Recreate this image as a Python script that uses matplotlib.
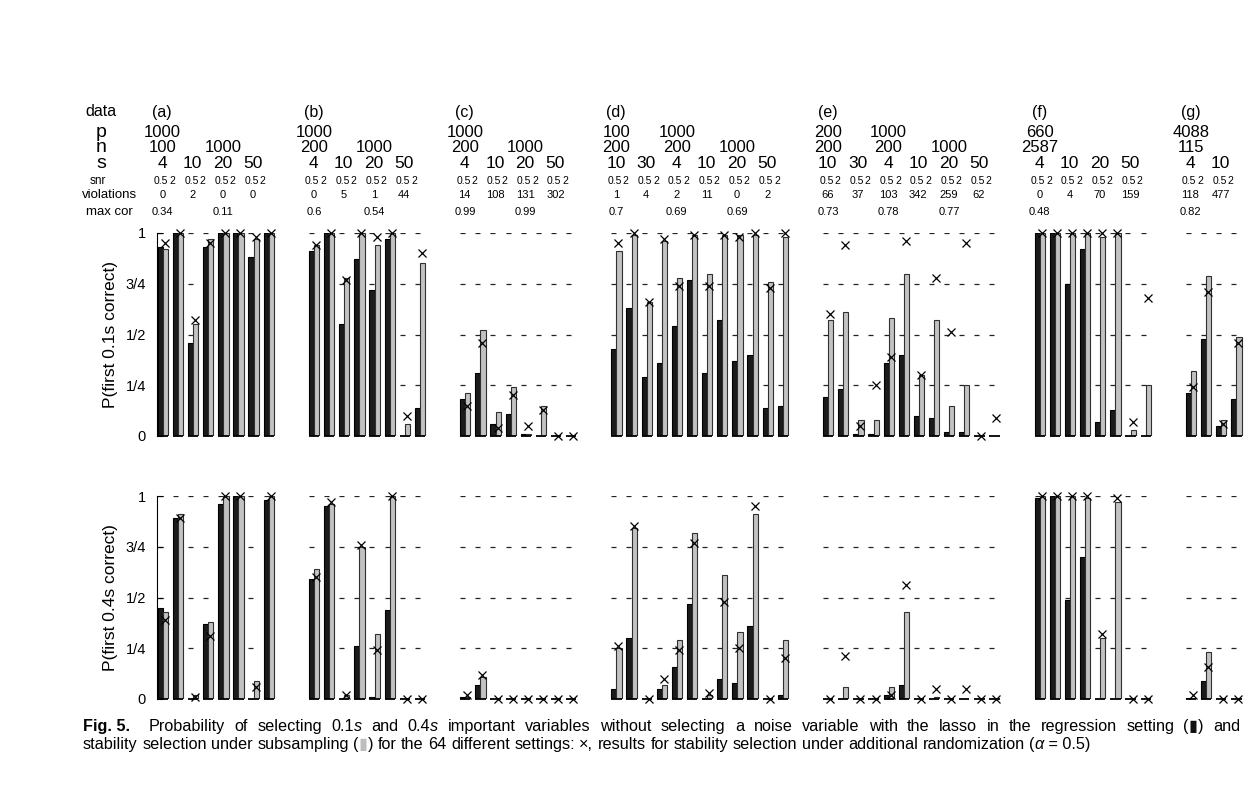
import numpy as np
import matplotlib
matplotlib.use('Agg')
import matplotlib.pyplot as plt
from matplotlib import transforms

plt.rcParams['font.family'] = ['Liberation Sans', 'DejaVu Sans']

# ---- data -------------------------------------------------------------
group_names = ['(a)', '(b)', '(c)', '(d)', '(e)', '(f)', '(g)']
group_sizes = [8, 8, 8, 12, 12, 8, 4]
group_gap = 2

# (position inside group, label)
p_labels = [[(0, '1000')], [(0, '1000')], [(0, '1000')],
            [(0, '100'), (4, '1000')], [(0, '200'), (4, '1000')],
            [(0, '660')], [(0, '4088')]]
n_labels = [[(0, '100'), (4, '1000')], [(0, '200'), (4, '1000')],
            [(0, '200'), (4, '1000')],
            [(0, '200'), (4, '200'), (8, '1000')],
            [(0, '200'), (4, '200'), (8, '1000')],
            [(0, '2587')], [(0, '115')]]
s_labels = [['4', '10', '20', '50'], ['4', '10', '20', '50'],
            ['4', '10', '20', '50'],
            ['10', '30', '4', '10', '20', '50'],
            ['10', '30', '4', '10', '20', '50'],
            ['4', '10', '20', '50'], ['4', '10']]
snr_labels = ['0.5', '2']
violations = [[0, 2, 0, 0], [0, 5, 1, 44], [14, 108, 131, 302],
              [1, 4, 2, 11, 0, 2], [66, 37, 103, 342, 259, 62],
              [0, 4, 70, 159], [118, 477]]
max_cor = [[(0, '0.34'), (4, '0.11')], [(0, '0.6'), (4, '0.54')],
           [(0, '0.99'), (4, '0.99')],
           [(0, '0.7'), (4, '0.69'), (8, '0.69')],
           [(0, '0.73'), (4, '0.78'), (8, '0.77')],
           [(0, '0.48')], [(0, '0.82')]]

# P(first 0.1s correct)
lasso_01 = [0.93, 1.0, 0.46, 0.93, 1.0, 1.0, 0.88, 1.0,
            0.91, 1.0, 0.55, 0.87, 0.72, 0.97, 0.0, 0.14,
            0.18, 0.31, 0.06, 0.11, 0.01, 0.0, 0.0, 0.0,
            0.43, 0.63, 0.29, 0.36, 0.54, 0.77, 0.31, 0.57, 0.37, 0.40, 0.14, 0.15,
            0.19, 0.23, 0.01, 0.01, 0.36, 0.40, 0.10, 0.09, 0.02, 0.02, 0.0, 0.0,
            1.0, 1.0, 0.75, 0.92, 0.07, 0.13, 0.0, 0.0,
            0.21, 0.48, 0.05, 0.18]
stab_01 = [0.92, 1.0, 0.55, 0.97, 1.0, 1.0, 0.97, 1.0,
           0.94, 1.0, 0.78, 1.0, 0.94, 1.0, 0.06, 0.85,
           0.21, 0.52, 0.12, 0.24, 0.01, 0.15, 0.0, 0.0,
           0.91, 0.99, 0.66, 0.96, 0.78, 0.99, 0.80, 0.99, 0.99, 0.99, 0.76, 0.98,
           0.57, 0.61, 0.08, 0.08, 0.58, 0.80, 0.30, 0.57, 0.15, 0.25, 0.0, 0.0,
           1.0, 1.0, 1.0, 1.0, 0.98, 1.0, 0.03, 0.25,
           0.32, 0.79, 0.08, 0.49]
rand_01 = [0.95, 1.0, 0.57, 0.95, 1.0, 1.0, 0.98, 1.0,
           0.94, 1.0, 0.77, 1.0, 0.98, 1.0, 0.10, 0.90,
           0.15, 0.46, 0.04, 0.20, 0.05, 0.13, 0.0, 0.0,
           0.95, 1.0, 0.66, 0.97, 0.74, 0.99, 0.74, 0.99, 0.98, 1.0, 0.73, 1.0,
           0.60, 0.94, 0.05, 0.25, 0.39, 0.96, 0.30, 0.78, 0.51, 0.95, 0.0, 0.09,
           1.0, 1.0, 1.0, 1.0, 1.0, 1.0, 0.07, 0.68,
           0.24, 0.71, 0.06, 0.46]

# P(first 0.4s correct)
lasso_04 = [0.45, 0.89, 0.0, 0.37, 0.96, 1.0, 0.0, 0.98,
            0.59, 0.95, 0.0, 0.26, 0.01, 0.44, 0.0, 0.0,
            0.01, 0.07, 0.0, 0.0, 0.0, 0.0, 0.0, 0.0,
            0.05, 0.30, 0.0, 0.05, 0.16, 0.47, 0.0, 0.10, 0.08, 0.36, 0.0, 0.02,
            0.0, 0.0, 0.0, 0.0, 0.02, 0.07, 0.0, 0.0, 0.0, 0.0, 0.0, 0.0,
            0.99, 1.0, 0.49, 0.70, 0.0, 0.0, 0.0, 0.0,
            0.005, 0.09, 0.0, 0.0]
stab_04 = [0.43, 0.91, 0.02, 0.38, 1.0, 1.0, 0.09, 1.0,
           0.64, 0.96, 0.02, 0.75, 0.32, 1.0, 0.0, 0.0,
           0.01, 0.11, 0.0, 0.0, 0.0, 0.0, 0.0, 0.0,
           0.25, 0.84, 0.0, 0.07, 0.29, 0.82, 0.02, 0.61, 0.33, 0.91, 0.0, 0.29,
           0.0, 0.06, 0.0, 0.0, 0.06, 0.43, 0.0, 0.01, 0.0, 0.0, 0.0, 0.0,
           1.0, 1.0, 1.0, 0.99, 0.30, 0.97, 0.0, 0.0,
           0.0, 0.23, 0.0, 0.0]
rand_04 = [0.39, 0.89, 0.01, 0.31, 1.0, 1.0, 0.06, 1.0,
           0.60, 0.97, 0.02, 0.76, 0.24, 1.0, 0.0, 0.0,
           0.02, 0.12, 0.0, 0.0, 0.0, 0.0, 0.0, 0.0,
           0.26, 0.85, 0.0, 0.10, 0.24, 0.77, 0.03, 0.48, 0.25, 0.95, 0.0, 0.20,
           0.0, 0.21, 0.0, 0.0, 0.02, 0.56, 0.0, 0.05, 0.0, 0.05, 0.0, 0.0,
           1.0, 1.0, 1.0, 1.0, 0.32, 0.99, 0.0, 0.0,
           0.02, 0.16, 0.0, 0.0]

ytick_vals = [0, 0.25, 0.5, 0.75, 1]
ytick_labels = ['0', '1/4', '1/2', '3/4', '1']

# ---- layout -----------------------------------------------------------
W, H = 1253, 797
fig = plt.figure(figsize=(W / 100, H / 100), dpi=100)

slots = []
group_start = []
start = 0
for size in group_sizes:
    group_start.append(start)
    slots.extend(range(start, start + size))
    start += size + group_gap
slots = np.array(slots, dtype=float)

unit = 15.12          # pixels per slot
x_lo, x_hi = -0.05, 72
left_px = 157
width_px = (x_hi - x_lo) * unit


def make_axes(top_px, bottom_px):
    ax = fig.add_axes([left_px / W, 1 - bottom_px / H, width_px / W, (bottom_px - top_px) / H])
    ax.set_xlim(x_lo, x_hi)
    ax.set_ylim(0, 1)
    for side in ['top', 'right', 'bottom']:
        ax.spines[side].set_visible(False)
    ax.spines['left'].set_linewidth(0.8)
    ax.set_xticks([])
    ax.set_yticks(ytick_vals)
    ax.set_yticklabels(ytick_labels, fontsize=10.5)
    ax.tick_params(axis='y', direction='in', length=4, width=0.8, pad=8)
    return ax


def draw_panel(ax, lasso, stab, rand):
    bw = 0.34
    for lev in [0.25, 0.5, 0.75, 1.0]:
        ax.hlines(np.full(len(slots), lev), slots, slots + 0.33,
                  colors='#222222', lw=0.9, zorder=0)
    ax.bar(slots, lasso, width=bw, align='edge', color='#1b1b1b',
           edgecolor='black', lw=0.8, zorder=2)
    ax.bar(slots + bw, stab, width=bw, align='edge', color='#c2c2c2',
           edgecolor='#303030', lw=0.8, zorder=2)
    # base line under every bar pair (visible where a value is zero)
    ax.hlines(np.zeros(len(slots)), slots, slots + 2 * bw, colors='black',
              lw=1.3, zorder=3, clip_on=False)
    ax.plot(slots + 0.47, rand, 'x', color='black', ms=5.5, mew=0.9,
            clip_on=False, zorder=5)


ax1 = make_axes(233, 436)
ax2 = make_axes(496, 699)
draw_panel(ax1, lasso_01, stab_01, rand_01)
draw_panel(ax2, lasso_04, stab_04, rand_04)

fig.text(110 / W, 1 - 334.5 / H, 'P(first 0.1s correct)', rotation=90,
         ha='center', va='center', fontsize=12.5)
fig.text(110 / W, 1 - 597.5 / H, 'P(first 0.4s correct)', rotation=90,
         ha='center', va='center', fontsize=12.5)

# ---- header table -----------------------------------------------------
trans = transforms.blended_transform_factory(ax1.transData, fig.transFigure)
rows = {'data': 116.5, 'p': 137, 'n': 152.5, 's': 168.5,
        'snr': 184.5, 'violations': 198.5, 'max cor': 215}
row_x = {'data': 101, 'p': 101.5, 'n': 101.5, 's': 101.5,
         'snr': 98, 'violations': 109.5, 'max cor': 109}
row_size = {'data': 11.5, 'p': 14, 'n': 14, 's': 14,
            'snr': 8.5, 'violations': 9.5, 'max cor': 9.5}
for name, yp in rows.items():
    fig.text(row_x[name] / W, 1 - yp / H, name, ha='center', va='baseline',
             fontsize=row_size[name])


def head(x, row, label, size):
    fig.text(x, 1 - rows[row] / H, label, transform=trans, ha='center',
             va='baseline', fontsize=size)


for gi, g0 in enumerate(group_start):
    head(g0 + 0.3, 'data', group_names[gi], 11.5)
    for k, lab in p_labels[gi]:
        head(g0 + k + 0.33, 'p', lab, 12)
    for k, lab in n_labels[gi]:
        head(g0 + k + 0.33, 'n', lab, 12)
    for j, lab in enumerate(s_labels[gi]):
        head(g0 + 2 * j + 0.3, 's', lab, 12.5)
    for k in range(group_sizes[gi]):
        lab = snr_labels[k % 2]
        head(g0 + k + (0.22 if k % 2 == 0 else -0.05), 'snr', lab, 7.5)
    for j, v in enumerate(violations[gi]):
        head(g0 + 2 * j + 0.3, 'violations', str(v), 8)
    for k, lab in max_cor[gi]:
        head(g0 + k + 0.33, 'max cor', lab, 8)

# ---- caption ----------------------------------------------------------
renderer = fig.canvas.get_renderer()
ital = {'fontstyle': 'italic'}
bold = {'fontweight': 'bold'}
black_box = {'family': 'DejaVu Sans', 'color': '#111111'}
gray_box = {'family': 'DejaVu Sans', 'color': '#bdbdbd'}


def plain(s):
    return [[(w, {})] for w in s.split()]


line1 = ([[('Fig. 5.', bold)], [('', {})]] + plain('Probability of selecting') +
         [[('0.1', {}), ('s', ital)]] + plain('and') + [[('0.4', {}), ('s', ital)]] +
         plain('important variables without selecting a noise variable with the '
               'lasso in the regression setting') +
         [[('(', {}), ('\u25ae', black_box), (')', {})]] + plain('and'))
line2 = (plain('stability selection under subsampling') +
         [[('(', {}), ('\u25ae', gray_box), (')', {})]] +
         plain('for the 64 different settings:') + [[('\u00d7,', {})]] +
         plain('results for stability selection under additional randomization') +
         [[('(', {}), ('\u03b1', ital), (' = 0.5)', {})]])


def widths(words, size):
    out = []
    for w in words:
        ws = []
        for txt, kw in w:
            if txt == '':
                ws.append(0.0)
                continue
            t = fig.text(0, 0, txt, fontsize=size, **kw)
            ws.append(t.get_window_extent(renderer).width)
            t.remove()
        out.append(ws)
    return out


def space_width(size):
    t1 = fig.text(0, 0, 'a a', fontsize=size)
    t2 = fig.text(0, 0, 'aa', fontsize=size)
    d = t1.get_window_extent(renderer).width - t2.get_window_extent(renderer).width
    t1.remove()
    t2.remove()
    return d


def place(words, x0, y, size, gap=None, width=None):
    ws = widths(words, size)
    total = sum(sum(w) for w in ws)
    if width is not None:
        gap = (width - total) / (len(words) - 1)
    x = x0
    for w, wl in zip(words, ws):
        for (txt, kw), pw in zip(w, wl):
            if txt:
                fig.text(x / W, 1 - y / H, txt, fontsize=size, va='baseline', **kw)
            x += pw
        x += gap


base = 10
ws2 = widths(line2, base)
nat2 = sum(sum(w) for w in ws2) + (len(line2) - 1) * space_width(base)
cap_size = base * 1010 / nat2
place(line1, 83, 731, cap_size, width=1240 - 83)
place(line2, 83, 749, cap_size, gap=space_width(cap_size))

fig.savefig('out.png', dpi=100)
